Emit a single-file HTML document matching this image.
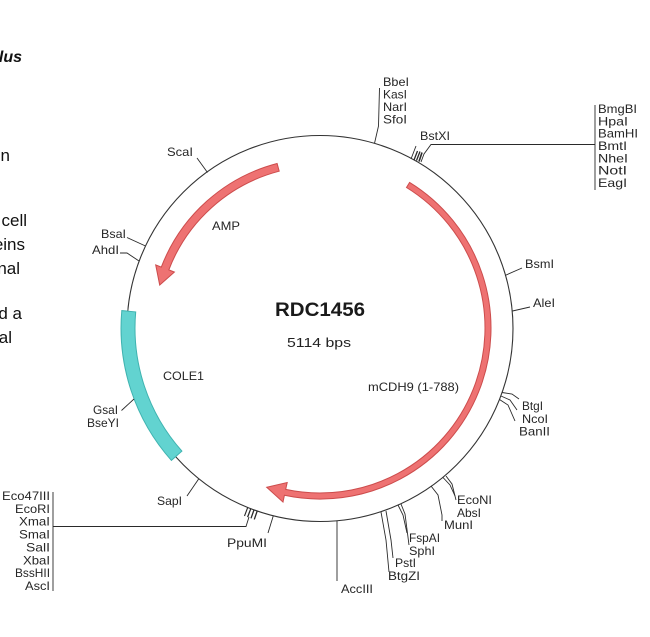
<!DOCTYPE html>
<html>
<head>
<meta charset="utf-8">
<style>
html,body{margin:0;padding:0;background:#fff;}
svg{display:block;}
.l{font-family:"Liberation Sans",Arial,sans-serif;font-size:12px;fill:#262626;}
.p{font-family:"Liberation Sans",Arial,sans-serif;font-size:17px;fill:#111;}
</style>
</head>
<body>
<svg width="650" height="637" viewBox="0 0 650 637" xmlns="http://www.w3.org/2000/svg">
<rect width="650" height="637" fill="#fff"/>

<!-- slide text fragments -->
<text x="22" y="62" text-anchor="end" style="font-family:'Liberation Sans',Arial,sans-serif;font-size:16px;font-weight:bold;font-style:italic;fill:#111;">lus</text>
<text class="p" x="10" y="161" text-anchor="end">n</text>
<text class="p" x="27" y="226" text-anchor="end">cell</text>
<text class="p" x="25" y="250" text-anchor="end">eins</text>
<text class="p" x="20" y="274" text-anchor="end">nal</text>
<text class="p" x="22" y="319" text-anchor="end">d a</text>
<text class="p" x="12" y="343" text-anchor="end">al</text>

<!-- backbone circle -->
<circle cx="320" cy="328.5" r="193" fill="none" stroke="#333" stroke-width="1.1"/>

<!-- AMP arrow -->
<path d="M 277.1 163.5 A 170 170 0 0 0 161.3 267.1 L 155.7 264.9 L 159.7 285.0 L 174.4 272.1 L 168.8 269.9 A 162 162 0 0 1 279.2 171.2 Z" fill="#ee7272" stroke="#cc4c4c" stroke-width="1"/>

<!-- mCDH9 arrow -->
<path d="M 409.6 182.4 A 171 171 0 0 1 284.4 495.3 L 283.0 502.1 L 266.7 487.3 L 287.2 482.5 L 285.7 489.4 A 165 165 0 0 0 406.5 187.5 Z" fill="#ee7272" stroke="#cc4c4c" stroke-width="1"/>

<!-- COLE1 -->
<path d="M 121.8 310.6 A 199 199 0 0 0 171.4 460.4 L 181.9 451.1 A 185 185 0 0 1 135.7 311.9 Z" fill="#62d3d0" stroke="#3fb3b0" stroke-width="1"/>

<!-- center labels -->
<text x="275" y="316" textLength="90" lengthAdjust="spacingAndGlyphs" style="font-family:'Liberation Sans',Arial,sans-serif;font-size:19px;font-weight:bold;fill:#1a1a1a;">RDC1456</text>
<text x="287" y="347" textLength="64" lengthAdjust="spacingAndGlyphs" style="font-family:'Liberation Sans',Arial,sans-serif;font-size:13px;fill:#222;">5114 bps</text>
<text class="l" x="212" y="230" textLength="28" lengthAdjust="spacingAndGlyphs">AMP</text>
<text class="l" x="163" y="380" textLength="41" lengthAdjust="spacingAndGlyphs">COLE1</text>
<text class="l" x="368" y="391" textLength="91" lengthAdjust="spacingAndGlyphs">mCDH9 (1-788)</text>

<g stroke="#2a2a2a" stroke-width="0.9" fill="none">
  <!-- BbeI cluster -->
  <polyline points="374.5,143.4 378.5,126 379.5,88"/>
  <!-- BstXI cluster -->
  <line x1="411" y1="159" x2="416" y2="146"/>
  <line x1="414" y1="160" x2="417.5" y2="151" stroke-width="1.3"/>
  <line x1="416.5" y1="160.5" x2="420" y2="151.5" stroke-width="1.3"/>
  <line x1="419" y1="161.5" x2="422" y2="152.5" stroke-width="1.6"/>
  <polyline points="421,162 424,154 431,144.5 595,144.5"/>
  <line x1="595" y1="105" x2="595" y2="190"/>
  <!-- BsmI / AleI -->
  <line x1="505" y1="275.5" x2="522" y2="268"/>
  <line x1="512.5" y1="311" x2="530" y2="307"/>
  <!-- BtgI / NcoI / BanII -->
  <polyline points="502,392.5 512,394 519,399"/>
  <polyline points="501,396 510,400 517,410"/>
  <polyline points="499.5,399.5 508,405 515,421"/>
  <!-- EcoNI / AbsI -->
  <polyline points="443,477.5 450,485 455,496"/>
  <polyline points="446,476 452,484 456,500"/>
  <!-- MunI -->
  <polyline points="431,486 438,495 442,515 442,521"/>
  <!-- FspAI / SphI -->
  <polyline points="398,505 403,515 407,533"/>
  <polyline points="401,504 405,514 409,545"/>
  <!-- PstI / BtgZI -->
  <polyline points="381,512 386,540 389,572"/>
  <polyline points="386,511 391,540 393,558"/>
  <!-- AccIII -->
  <line x1="337" y1="520.5" x2="337" y2="581"/>
  <!-- PpuMI -->
  <line x1="273.3" y1="515.8" x2="268" y2="533"/>
  <!-- bottom-left cluster -->
  <line x1="257.2" y1="511" x2="254.3" y2="519.4" stroke-width="1.3"/>
  <line x1="254" y1="509.9" x2="251" y2="518.3" stroke-width="1.3"/>
  <line x1="250.8" y1="508.7" x2="247.6" y2="517.1" stroke-width="1.3"/>
  <line x1="247.7" y1="507.5" x2="244.5" y2="516" stroke-width="1.1"/>
  <polyline points="249,517 246,526.5 53,526.5"/>
  <line x1="53" y1="492" x2="53" y2="591"/>
  <!-- SapI -->
  <line x1="198.8" y1="478.7" x2="187" y2="496"/>
  <!-- GsaI / BseYI -->
  <line x1="134" y1="399" x2="121.5" y2="410.5"/>
  <!-- AhdI -->
  <polyline points="139.2,261.1 127,253 120,253"/>
  <!-- BsaI -->
  <line x1="145.5" y1="246" x2="127" y2="237.5"/>
  <!-- ScaI -->
  <line x1="207.5" y1="172.5" x2="197" y2="158"/>
</g>

<!-- labels -->
<text class="l" x="383" y="86" textLength="26" lengthAdjust="spacingAndGlyphs">BbeI</text>
<text class="l" x="383" y="98.5" textLength="24" lengthAdjust="spacingAndGlyphs">KasI</text>
<text class="l" x="383" y="111" textLength="24" lengthAdjust="spacingAndGlyphs">NarI</text>
<text class="l" x="383" y="123.5" textLength="24" lengthAdjust="spacingAndGlyphs">SfoI</text>
<text class="l" x="420" y="140" textLength="30" lengthAdjust="spacingAndGlyphs">BstXI</text>

<text class="l" x="598" y="113" textLength="39" lengthAdjust="spacingAndGlyphs">BmgBI</text>
<text class="l" x="598" y="125.3" textLength="30" lengthAdjust="spacingAndGlyphs">HpaI</text>
<text class="l" x="598" y="137.6" textLength="40" lengthAdjust="spacingAndGlyphs">BamHI</text>
<text class="l" x="598" y="150" textLength="29" lengthAdjust="spacingAndGlyphs">BmtI</text>
<text class="l" x="598" y="162.3" textLength="30" lengthAdjust="spacingAndGlyphs">NheI</text>
<text class="l" x="598" y="174.6" textLength="29" lengthAdjust="spacingAndGlyphs">NotI</text>
<text class="l" x="598" y="187" textLength="29" lengthAdjust="spacingAndGlyphs">EagI</text>

<text class="l" x="525" y="268" textLength="29" lengthAdjust="spacingAndGlyphs">BsmI</text>
<text class="l" x="533" y="307" textLength="22" lengthAdjust="spacingAndGlyphs">AleI</text>

<text class="l" x="522" y="410" textLength="21" lengthAdjust="spacingAndGlyphs">BtgI</text>
<text class="l" x="522" y="423" textLength="26" lengthAdjust="spacingAndGlyphs">NcoI</text>
<text class="l" x="519" y="435.5" textLength="31" lengthAdjust="spacingAndGlyphs">BanII</text>

<text class="l" x="457" y="504" textLength="35" lengthAdjust="spacingAndGlyphs">EcoNI</text>
<text class="l" x="457" y="517" textLength="24" lengthAdjust="spacingAndGlyphs">AbsI</text>
<text class="l" x="444" y="529" textLength="29" lengthAdjust="spacingAndGlyphs">MunI</text>
<text class="l" x="409" y="542" textLength="31" lengthAdjust="spacingAndGlyphs">FspAI</text>
<text class="l" x="409" y="555" textLength="26" lengthAdjust="spacingAndGlyphs">SphI</text>
<text class="l" x="395" y="567" textLength="21" lengthAdjust="spacingAndGlyphs">PstI</text>
<text class="l" x="388" y="580" textLength="32" lengthAdjust="spacingAndGlyphs">BtgZI</text>
<text class="l" x="341" y="593" textLength="32" lengthAdjust="spacingAndGlyphs">AccIII</text>

<text class="l" x="227" y="547" textLength="40" lengthAdjust="spacingAndGlyphs">PpuMI</text>
<text class="l" x="157" y="505" textLength="25" lengthAdjust="spacingAndGlyphs">SapI</text>

<text class="l" x="2" y="500" textLength="48" lengthAdjust="spacingAndGlyphs">Eco47III</text>
<text class="l" x="15" y="512.9" textLength="35" lengthAdjust="spacingAndGlyphs">EcoRI</text>
<text class="l" x="19" y="525.7" textLength="31" lengthAdjust="spacingAndGlyphs">XmaI</text>
<text class="l" x="19" y="538.6" textLength="31" lengthAdjust="spacingAndGlyphs">SmaI</text>
<text class="l" x="26" y="551.4" textLength="24" lengthAdjust="spacingAndGlyphs">SalI</text>
<text class="l" x="23" y="564.3" textLength="27" lengthAdjust="spacingAndGlyphs">XbaI</text>
<text class="l" x="15" y="577.1" textLength="35" lengthAdjust="spacingAndGlyphs">BssHII</text>
<text class="l" x="25" y="590" textLength="25" lengthAdjust="spacingAndGlyphs">AscI</text>

<text class="l" x="93" y="414" textLength="25" lengthAdjust="spacingAndGlyphs">GsaI</text>
<text class="l" x="87" y="427" textLength="32" lengthAdjust="spacingAndGlyphs">BseYI</text>
<text class="l" x="92" y="254" textLength="27" lengthAdjust="spacingAndGlyphs">AhdI</text>
<text class="l" x="101" y="238" textLength="25" lengthAdjust="spacingAndGlyphs">BsaI</text>
<text class="l" x="167" y="156" textLength="26" lengthAdjust="spacingAndGlyphs">ScaI</text>
</svg>
</body>
</html>
